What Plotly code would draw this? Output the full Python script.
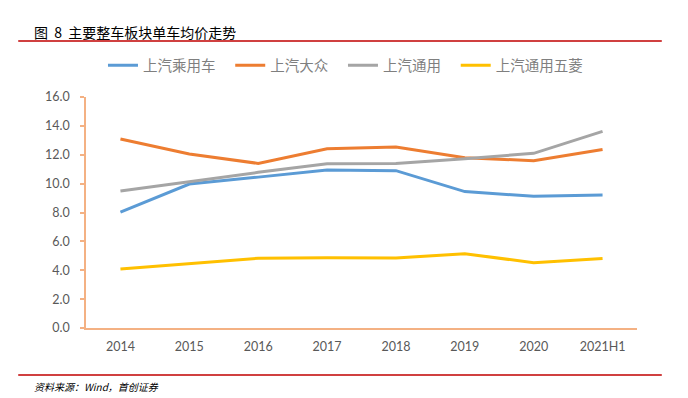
import plotly.graph_objects as go

categories = ["2014", "2015", "2016", "2017", "2018", "2019", "2020", "2021H1"]
saic_passenger = [8.03, 9.97, 10.45, 10.94, 10.9, 9.45, 9.12, 9.21]
saic_vw = [13.09, 12.05, 11.4, 12.42, 12.53, 11.8, 11.59, 12.37]
saic_gm = [9.49, 10.15, 10.78, 11.38, 11.4, 11.73, 12.1, 13.62]
saic_gm_wuling = [4.08, 4.48, 4.83, 4.87, 4.85, 5.15, 4.52, 4.82]
series_names = ["上汽乘用车", "上汽大众", "上汽通用", "上汽通用五菱"]
colors = ["#5B9BD5", "#ED7D31", "#A5A5A5", "#FFC000"]
y_ticks = [0, 2, 4, 6, 8, 10, 12, 14, 16]

fig = go.Figure()
for name, vals, c in zip(series_names, [saic_passenger, saic_vw, saic_gm, saic_gm_wuling], colors):
    fig.add_trace(go.Scatter(x=categories, y=vals, name=name + "\u00a0\u00a0\u00a0", mode="lines",
                             line=dict(color=c, width=3)))

font_cjk = "Noto Sans CJK SC"
tick_font = dict(size=12.5, color="#595959", family="Lato")
fig.update_layout(
    width=688, height=398,
    margin=dict(l=86, r=51, t=97, b=70),
    paper_bgcolor="white", plot_bgcolor="white",
    font=dict(family=font_cjk, color="#595959", size=12),
    showlegend=True,
    legend=dict(orientation="h", x=0.48, xanchor="center", y=1.137, yanchor="middle",
                font=dict(size=14.5, color="#7F7F7F"), itemwidth=30),
    xaxis=dict(type="category", range=[-0.5, 7.5], showline=True, linecolor="#F4B183",
               linewidth=1.5, showgrid=False, ticks="", tickfont=tick_font,
               ticklabelstandoff=6),
    yaxis=dict(range=[0, 16], tickvals=y_ticks, ticktext=[f"{v:.1f}" for v in y_ticks],
               showline=True, linecolor="#F4B183", linewidth=1.5, showgrid=False,
               ticks="outside", ticklen=4, tickcolor="#F4B183", tickwidth=1.5,
               tickfont=tick_font, ticklabelstandoff=8),
)

fig.add_shape(type="line", xref="paper", yref="paper", x0=-0.123, x1=1.045, y0=1.242, y1=1.242,
              line=dict(color="#C00000", width=1.5))
fig.add_shape(type="line", xref="paper", yref="paper", x0=-0.123, x1=1.045, y0=-0.203, y1=-0.203,
              line=dict(color="#C00000", width=1.5))
fig.add_annotation(text="图\u00a0\u00a08\u00a0\u00a0主要整车板块单车均价走势", xref="paper", yref="paper",
                   x=-0.098, y=1.28, xanchor="left", yanchor="middle", showarrow=False,
                   font=dict(size=14, color="#000000", family=font_cjk))
fig.add_annotation(text="<i>资料来源：Wind，首创证券</i>", xref="paper", yref="paper",
                   x=-0.098, y=-0.255, xanchor="left", yanchor="middle", showarrow=False,
                   font=dict(size=10, color="#000000", family=font_cjk))

fig.write_html("out.html", config={"displayModeBar": False},
               post_script="document.body.style.margin='0';")
